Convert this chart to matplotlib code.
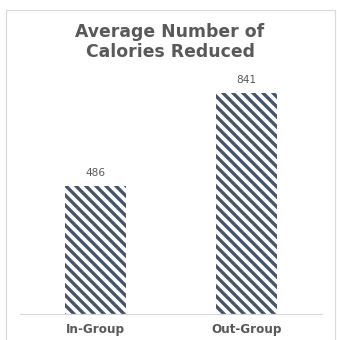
import matplotlib
matplotlib.use("Agg")
import matplotlib.pyplot as plt
from matplotlib.patches import Rectangle

categories = ["In-Group", "Out-Group"]
values = [486, 841]
title = "Average Number of\nCalories Reduced"

DPI = 60
W, H = 337, 340
plt.rcParams['font.family'] = ['DejaVu Sans']
plt.rcParams['hatch.linewidth'] = 4.0
plt.rcParams['hatch.color'] = '#44546A'

fig = plt.figure(figsize=(W / DPI, H / DPI), dpi=DPI)
fig.patch.set_facecolor('white')

def px(v):  # pixel -> points at this dpi
    return v * 72 / DPI

# outer chart border
fig.patches.append(Rectangle((6 / W, -0.05), (335 - 6) / W, (H - 10) / H + 0.05,
                             transform=fig.transFigure, fill=False,
                             edgecolor='#D9D9D9', linewidth=px(1.2)))

ax_left, ax_right = 20, 322
ax_bottom, ax_top = 314, 60
ax = fig.add_axes([ax_left / W, (H - ax_bottom) / H,
                   (ax_right - ax_left) / W, (ax_bottom - ax_top) / H])
ax.set_facecolor('none')

x = range(len(categories))
bars = ax.bar(x, values, width=0.4, color='white', edgecolor='#44546A',
              hatch='\\\\', linewidth=0)
ax.set_xlim(-0.5, 1.5)
ymax = max(values) * (ax_bottom - ax_top) / (ax_bottom - 93)
ax.set_ylim(0, ymax)

for b, v in zip(bars, values):
    ax.annotate(str(v), (b.get_x() + b.get_width() / 2, v),
                xytext=(0, px(8)), textcoords='offset points',
                ha='center', va='bottom', fontsize=px(10.5), color='#595959')

for s in ['top', 'right', 'left']:
    ax.spines[s].set_visible(False)
ax.spines['bottom'].set_color('#D9D9D9')
ax.spines['bottom'].set_linewidth(px(1.2))
ax.set_yticks([])
ax.set_xticks(list(x))
ax.set_xticklabels(categories, fontsize=px(12), fontweight='bold', color='#595959')
ax.tick_params(axis='x', length=0, pad=px(9))

fig.text(170 / W, 1 - 42 / H, title, ha='center', va='center',
         fontsize=px(17.2), fontweight='bold', color='#595959', linespacing=1.12)

fig.savefig('out.png', dpi=DPI, facecolor='white')
